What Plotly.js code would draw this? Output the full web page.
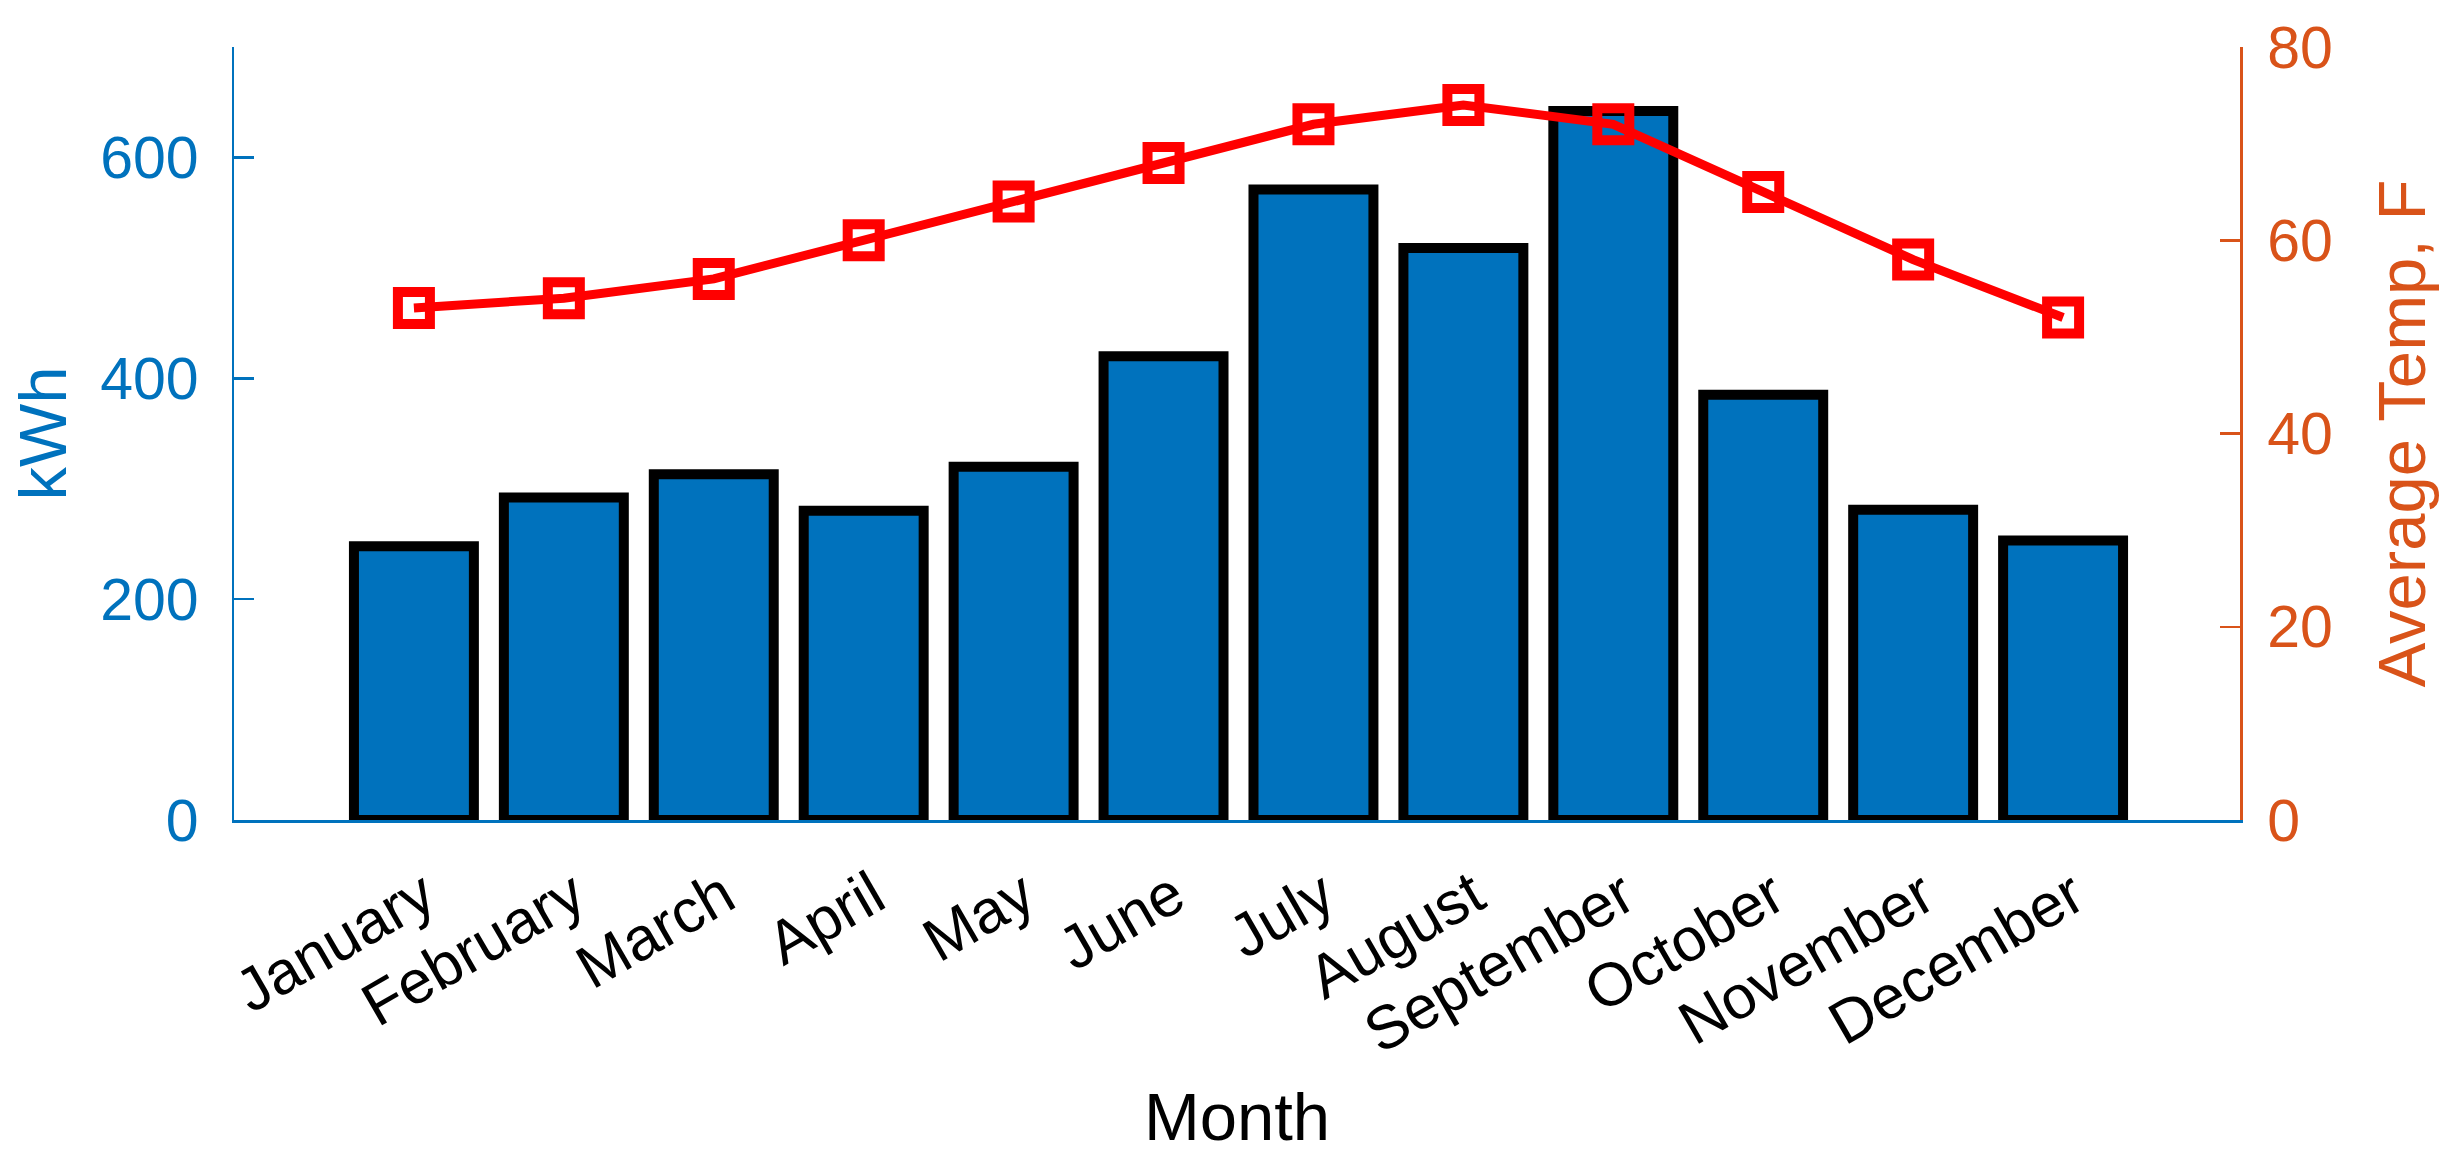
<!DOCTYPE html>
<html>
<head>
<meta charset="utf-8">
<script src="https://cdn.plot.ly/plotly-3.0.1.min.js"></script>
<style>
  html, body { margin: 0; padding: 0; background: #ffffff; }
  #chart { width: 2458px; height: 1165px; }
</style>
</head>
<body>
<div id="chart"></div>
<script>
// ---- Data ----
var months = ["January", "February", "March", "April", "May", "June",
              "July", "August", "September", "October", "November", "December"];
var energyKWh = [248, 292, 313, 280, 320, 420, 571, 518, 642, 385, 281, 253];
var avgTempF = [53, 54, 56, 60, 64, 68, 72, 74, 72, 65, 58, 52];
var kwhTicks = [0, 200, 400, 600];
var tempTicks = [0, 20, 40, 60, 80];

var BLUE = "#0072BD";
var ORANGE = "#D95319";
var RED = "#FF0000";
var FONT = "Liberation Sans, Arial, Helvetica, sans-serif";

var bars = {
  type: "bar",
  x: months,
  y: energyKWh,
  width: 0.8,
  marker: { color: BLUE, line: { color: "#000000", width: 10 } },
  yaxis: "y",
  hoverinfo: "x+y",
  showlegend: false
};

var temps = {
  type: "scatter",
  mode: "lines+markers",
  x: months,
  y: avgTempF,
  yaxis: "y2",
  line: { color: RED, width: 9 },
  marker: { symbol: "square-open", size: 32, color: RED, line: { color: RED, width: 10 } },
  cliponaxis: false,
  showlegend: false
};

var layout = {
  width: 2458,
  height: 1165,
  margin: { l: 234, r: 218, t: 47, b: 345, pad: 0 },
  paper_bgcolor: "#ffffff",
  plot_bgcolor: "#ffffff",
  font: { family: FONT, size: 59, color: "#000000" },
  showlegend: false,
  xaxis: {
    type: "category",
    categoryorder: "array",
    categoryarray: months,
    range: [-1.2, 12.18],
    showline: true,
    linecolor: BLUE,
    linewidth: 2.5,
    ticks: "",
    showgrid: false,
    zeroline: false,
    tickangle: -30,
    tickfont: { family: FONT, size: 61, color: "#000000" },
    ticklabelstandoff: 14,
    ticklabelshift: 10,
    title: { text: "Month", font: { family: FONT, size: 67, color: "#000000" }, standoff: 28 },
    automargin: false,
    fixedrange: true
  },
  yaxis: {
    range: [0, 700],
    tickvals: kwhTicks,
    ticktext: kwhTicks.map(String),
    showline: true,
    linecolor: BLUE,
    linewidth: 2.5,
    ticks: "inside",
    ticklen: 20,
    tickwidth: 2.5,
    tickcolor: BLUE,
    showgrid: false,
    zeroline: false,
    tickfont: { family: FONT, size: 59, color: BLUE },
    ticklabelstandoff: 21,
    title: { text: "kWh", font: { family: FONT, size: 67, color: BLUE }, standoff: 12 },
    automargin: false,
    fixedrange: true
  },
  yaxis2: {
    overlaying: "y",
    side: "right",
    range: [0, 80],
    tickvals: tempTicks,
    ticktext: tempTicks.map(String),
    showline: true,
    linecolor: ORANGE,
    linewidth: 2.5,
    ticks: "inside",
    ticklen: 20,
    tickwidth: 2.5,
    tickcolor: ORANGE,
    showgrid: false,
    zeroline: false,
    tickfont: { family: FONT, size: 59, color: ORANGE },
    ticklabelstandoff: 13,
    title: { text: "Average Temp, F", font: { family: FONT, size: 67, color: ORANGE }, standoff: 46 },
    automargin: false,
    fixedrange: true
  },
  bargap: 0.2
};

Plotly.newPlot("chart", [bars, temps], layout, { displayModeBar: false, staticPlot: true });
</script>
</body>
</html>
